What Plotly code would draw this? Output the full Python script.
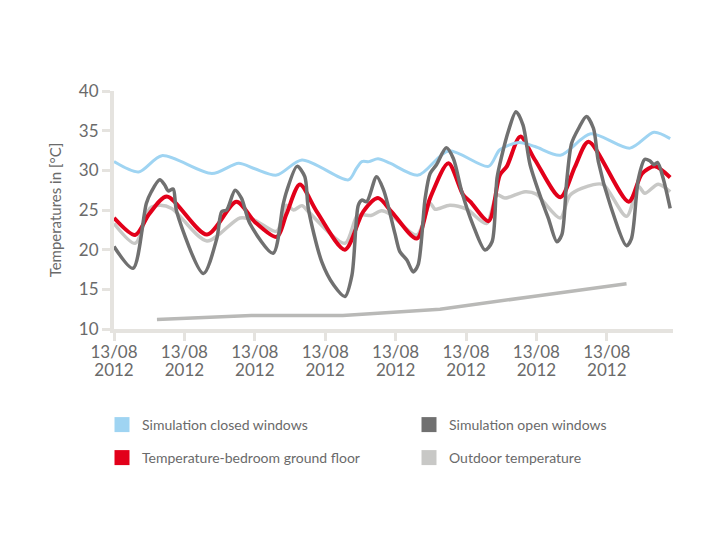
import plotly.graph_objects as go

# ---- data ----
tick_pos = [0, 1, 2, 3, 4, 5, 6, 7]
tick_day = ["13/08"] * 8
tick_year = ["2012"] * 8
y_ticks = [10, 15, 20, 25, 30, 35, 40]

closed_x = [0, 0.35, 0.68, 1.39, 1.77, 2.0, 2.31, 2.67, 3.33, 3.44, 3.52, 3.62, 3.75, 3.92, 4.32, 4.75, 5.32, 5.48, 5.75, 5.98, 6.34, 6.77, 7.33, 7.67, 7.9]
closed_y = [31.1, 29.8, 31.85, 29.6, 30.9, 30.2, 29.4, 31.3, 28.8, 30.2, 31.1, 31.1, 31.45, 30.9, 29.4, 32.45, 30.5, 32.6, 33.5, 33.0, 31.9, 34.6, 32.8, 34.8, 34.0]

bedroom_x = [0, 0.3, 0.5, 0.75, 1.32, 1.74, 2.0, 2.31, 2.45, 2.64, 2.88, 3.28, 3.54, 3.75, 3.95, 4.3, 4.49, 4.75, 4.96, 5.06, 5.32, 5.48, 5.58, 5.77, 5.98, 6.34, 6.55, 6.74, 7.31, 7.5, 7.68, 7.9]
bedroom_y = [24.0, 21.85, 24.5, 26.7, 21.9, 26.05, 23.5, 21.6, 24.5, 28.2, 24.8, 20.0, 24.8, 26.5, 24.7, 21.4, 26.5, 30.9, 26.9, 26.05, 23.6, 29.4, 30.5, 34.25, 31.3, 26.6, 30.5, 33.6, 26.05, 29.6, 30.5, 29.1]

outdoor_x = [0, 0.3, 0.51, 0.65, 0.82, 1.32, 1.79, 2.0, 2.31, 2.45, 2.55, 2.67, 2.76, 3.28, 3.45, 3.54, 3.65, 3.8, 3.92, 4.3, 4.49, 4.56, 4.77, 5.01, 5.29, 5.44, 5.55, 5.84, 6.0, 6.1, 6.34, 6.48, 6.81, 6.95, 7.28, 7.45, 7.54, 7.73, 7.9]
outdoor_y = [23.3, 20.8, 25.2, 25.6, 25.2, 21.1, 24.0, 23.7, 22.3, 25.6, 25.0, 25.55, 24.8, 20.8, 24.2, 24.4, 24.3, 24.9, 24.5, 21.85, 25.85, 25.1, 25.6, 25.1, 23.3, 26.9, 26.5, 27.3, 27.0, 26.05, 24.0, 26.9, 28.2, 28.2, 24.2, 27.95, 27.1, 28.25, 27.3]

open_x = [0, 0.27, 0.46, 0.53, 0.65, 0.72, 0.77, 0.84, 0.89, 1.27, 1.46, 1.53, 1.6, 1.72, 1.81, 1.93, 2.26, 2.4, 2.45, 2.6, 2.71, 2.76, 2.95, 3.12, 3.28, 3.38, 3.47, 3.52, 3.59, 3.73, 3.83, 3.99, 4.06, 4.16, 4.25, 4.32, 4.42, 4.49, 4.58, 4.72, 4.82, 4.94, 5.1, 5.27, 5.37, 5.44, 5.51, 5.6, 5.71, 5.81, 5.91, 6.1, 6.17, 6.29, 6.36, 6.43, 6.5, 6.6, 6.71, 6.81, 6.88, 7.05, 7.28, 7.35, 7.45, 7.54, 7.61, 7.67, 7.72, 7.8, 7.9]
open_y = [20.4, 17.65, 25.85, 27.3, 28.8, 28.15, 27.4, 27.65, 24.8, 17.0, 21.4, 24.8, 25.0, 27.5, 26.5, 23.3, 19.55, 25.6, 27.3, 30.5, 29.2, 25.2, 18.5, 15.55, 14.1, 16.8, 25.6, 26.25, 26.05, 29.2, 27.5, 22.05, 19.75, 18.7, 17.2, 18.1, 26.5, 29.6, 30.7, 32.85, 31.5, 27.3, 23.1, 19.95, 21.0, 29.0, 31.9, 34.9, 37.4, 35.7, 30.7, 25.6, 23.95, 21.0, 21.85, 28.6, 33.4, 35.3, 36.8, 35.3, 31.1, 25.6, 20.5, 21.4, 29.0, 31.4, 31.2, 30.7, 31.0, 29.0, 25.2]

ground_x = [0.61, 1.95, 3.25, 4.63, 5.95, 7.28]
ground_y = [11.2, 11.7, 11.7, 12.5, 14.1, 15.7]

C_BLUE = "#9fd4f2"
C_RED = "#e2001a"
C_DARK = "#707070"
C_LIGHT = "#c8c8c6"
C_GROUND = "#b9b9b7"
AXIS = "#e5e3df"
TXT = "#6a6a6a"
FONT = "Lato"

fig = go.Figure()
fig.add_trace(go.Scatter(x=ground_x, y=ground_y, mode="lines", line=dict(color=C_GROUND, width=3.5), showlegend=False))
fig.add_trace(go.Scatter(x=outdoor_x, y=outdoor_y, mode="lines", line=dict(color=C_LIGHT, width=3.5, shape="spline", smoothing=0.8), showlegend=False))
fig.add_trace(go.Scatter(x=bedroom_x, y=bedroom_y, mode="lines", line=dict(color=C_RED, width=4, shape="spline", smoothing=0.8), showlegend=False))
fig.add_trace(go.Scatter(x=closed_x, y=closed_y, mode="lines", line=dict(color=C_BLUE, width=3, shape="spline", smoothing=0.8), showlegend=False))
fig.add_trace(go.Scatter(x=open_x, y=open_y, mode="lines", line=dict(color=C_DARK, width=3.5, shape="spline", smoothing=0.8), showlegend=False))

# plot-area geometry in figure pixels (page is offset by the 8px body margin)
PL, PB, PW, PH = 106, 321, 559, 238

# legend-only entries (square swatches), one legend box each
leg = [("Simulation closed windows", C_BLUE, "legend", 94, 417),
       ("Simulation open windows", C_DARK, "legend2", 401, 417),
       ("Temperature-bedroom ground floor", C_RED, "legend3", 94, 450),
       ("Outdoor temperature", C_LIGHT, "legend4", 401, 450)]
legend_layout = {}
for i, (name, col, lg, px, py) in enumerate(leg):
    fig.add_trace(go.Scatter(x=[None], y=[None], mode="markers", name=name, legend=lg,
                             xaxis="x2" if i == 0 else "x",
                             marker=dict(symbol="square", size=15, color=col)))
    legend_layout[lg] = dict(x=(px - PL) / PW, y=(PB - py) / PH, xanchor="left", yanchor="middle",
                             orientation="h", bgcolor="rgba(0,0,0,0)", borderwidth=0,
                             font=dict(family=FONT, size=14, color=TXT),
                             itemclick=False, itemdoubleclick=False)

fig.update_layout(
    width=720, height=540,
    margin=dict(l=PL, r=720 - PL - PW, t=PB - PH, b=540 - PB, autoexpand=False),
    paper_bgcolor="white", plot_bgcolor="white",
    font=dict(family=FONT, color=TXT),
    showlegend=True,
    xaxis=dict(range=[0, 7.94], tickvals=tick_pos, ticktext=tick_day, showgrid=False, zeroline=False,
               showline=True, linecolor=AXIS, linewidth=4, ticks="outside", ticklen=8, tickwidth=3,
               tickcolor=AXIS, ticklabelstandoff=-3, tickfont=dict(family=FONT, size=17, color=TXT)),
    xaxis2=dict(range=[0, 7.94], overlaying="x", side="bottom", tickvals=tick_pos, ticktext=tick_year,
                showgrid=False, zeroline=False, showline=False, ticks="", ticklabelstandoff=29,
                tickfont=dict(family=FONT, size=17, color=TXT)),
    yaxis=dict(range=[10, 40], tickvals=y_ticks, showgrid=False, zeroline=False,
               showline=True, linecolor=AXIS, linewidth=4, ticks="outside", ticklen=8, tickwidth=3,
               tickcolor=AXIS, ticklabelstandoff=0, tickfont=dict(family=FONT, size=17, color=TXT),
               title=dict(text="Temperatures in [°C]", font=dict(family=FONT, size=15, color=TXT), standoff=15)),
    **legend_layout,
)

fig.write_html("out.html")
